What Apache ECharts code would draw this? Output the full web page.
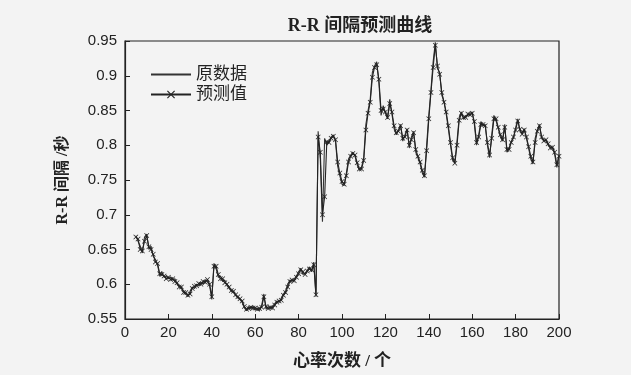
<!DOCTYPE html>
<html>
<head>
<meta charset="utf-8">
<script src="https://cdn.jsdelivr.net/npm/echarts@6/dist/echarts.min.js"></script>
<style>
html,body{margin:0;padding:0;background:#f3f3f3;}
#chart{width:631px;height:375px;}
</style>
</head>
<body>
<div id="chart"></div>
<script>
// Chart text
const titleText = 'R-R 间隔预测曲线';
const xAxisName = '心率次数 / 个';
const yAxisName = 'R-R 间隔 /秒';
const seriesNames = ['原数据', '预测值'];
// x ticks: 0..200 step 20, y ticks: 0.55..0.95 step 0.05
const xTicks = [0, 20, 40, 60, 80, 100, 120, 140, 160, 180, 200];
const yTicks = [0.55, 0.6, 0.65, 0.7, 0.75, 0.8, 0.85, 0.9, 0.95];
// first heartbeat index of the samples
const firstBeat = 5;

// 原数据 (beats 5..200)
const original = [
0.670,0.662,0.655,0.645,0.668,0.672,0.650,0.655,0.640,0.636,
0.628,0.612,0.618,0.610,0.612,0.608,0.610,0.606,0.608,0.600,
0.598,0.594,0.590,0.586,0.582,0.590,0.596,0.594,0.600,0.598,
0.603,0.600,0.606,0.604,0.598,0.578,0.630,0.622,0.610,0.612,
0.604,0.606,0.598,0.594,0.590,0.588,0.584,0.580,0.578,0.574,
0.566,0.562,0.568,0.565,0.568,0.563,0.566,0.562,0.570,0.586,
0.564,0.568,0.565,0.568,0.572,0.576,0.574,0.580,0.586,0.590,
0.600,0.606,0.604,0.607,0.612,0.618,0.623,0.614,0.616,0.620,
0.625,0.618,0.632,0.582,0.820,0.780,0.690,0.810,0.800,0.806,
0.812,0.815,0.806,0.770,0.756,0.744,0.742,0.760,0.780,0.786,
0.790,0.784,0.772,0.764,0.768,0.782,0.830,0.850,0.866,0.905,
0.914,0.920,0.890,0.843,0.857,0.846,0.838,0.866,0.845,0.824,
0.815,0.822,0.830,0.806,0.815,0.824,0.796,0.812,0.820,0.790,
0.782,0.773,0.760,0.754,0.800,0.843,0.880,0.920,0.948,0.910,
0.905,0.872,0.863,0.845,0.824,0.800,0.778,0.776,0.806,0.840,
0.848,0.838,0.842,0.843,0.846,0.848,0.830,0.800,0.815,0.834,
0.828,0.830,0.800,0.782,0.815,0.843,0.835,0.824,0.812,0.806,
0.830,0.790,0.796,0.806,0.810,0.825,0.838,0.820,0.818,0.824,
0.810,0.796,0.780,0.773,0.810,0.822,0.830,0.810,0.808,0.806,
0.800,0.798,0.796,0.787,0.768,0.787
];

// 预测值 (beats 5..200)
const predicted = [
0.668,0.665,0.650,0.648,0.662,0.670,0.654,0.650,0.643,0.632,
0.630,0.615,0.614,0.612,0.608,0.610,0.607,0.608,0.604,0.602,
0.596,0.596,0.588,0.588,0.584,0.586,0.594,0.597,0.598,0.601,
0.600,0.604,0.603,0.607,0.600,0.582,0.626,0.626,0.614,0.608,
0.608,0.602,0.600,0.596,0.591,0.590,0.585,0.582,0.579,0.576,
0.568,0.564,0.565,0.567,0.566,0.566,0.564,0.565,0.567,0.582,
0.568,0.565,0.567,0.566,0.570,0.574,0.576,0.577,0.584,0.588,
0.596,0.604,0.606,0.605,0.610,0.615,0.621,0.618,0.614,0.619,
0.622,0.621,0.628,0.585,0.812,0.790,0.700,0.726,0.805,0.804,
0.810,0.813,0.808,0.776,0.760,0.748,0.744,0.756,0.776,0.784,
0.788,0.786,0.775,0.766,0.766,0.778,0.822,0.846,0.862,0.898,
0.912,0.916,0.895,0.850,0.852,0.848,0.840,0.860,0.848,0.828,
0.818,0.820,0.828,0.810,0.812,0.822,0.800,0.808,0.818,0.794,
0.784,0.776,0.764,0.756,0.792,0.838,0.876,0.912,0.944,0.914,
0.902,0.876,0.862,0.848,0.828,0.804,0.782,0.774,0.800,0.836,
0.846,0.840,0.840,0.845,0.844,0.846,0.834,0.804,0.812,0.830,
0.830,0.828,0.804,0.786,0.810,0.838,0.838,0.826,0.815,0.808,
0.826,0.794,0.794,0.804,0.812,0.822,0.835,0.823,0.816,0.822,
0.812,0.798,0.784,0.776,0.804,0.820,0.828,0.812,0.806,0.808,
0.802,0.796,0.797,0.790,0.772,0.784
];

const toPairs = arr => arr.map((v, i) => [firstBeat + i, v]);

const crossSymbol = 'path://M0,1L1,0L5,4L9,0L10,1L6,5L10,9L9,10L5,6L1,10L0,9L4,5Z';
const serif = '"Liberation Serif","Noto Sans CJK SC",serif';
const sans = '"Liberation Sans",Arial,sans-serif';

const chart = echarts.init(document.getElementById('chart'));
chart.setOption({
  backgroundColor: '#f3f3f3',
  animation: false,
  title: {
    text: titleText,
    left: 355, top: 12, textAlign: 'center',
    textStyle: {fontFamily: serif, fontSize: 18, fontWeight: 'bold', color: '#222'}
  },
  legend: {
    left: 145, top: 61, orient: 'vertical',
    itemWidth: 40, itemHeight: 10, itemGap: 3,
    textStyle: {fontFamily: serif, fontSize: 17, color: '#222'},
    data: [
      {name: seriesNames[0], itemStyle: {color: 'transparent', borderColor: 'transparent', borderWidth: 0}},
      {name: seriesNames[1]}
    ]
  },
  grid: {
    left: 125, right: 72, top: 41, bottom: 50,
    show: true, borderColor: '#222', borderWidth: 1.2, backgroundColor: 'transparent'
  },
  xAxis: {
    type: 'value', min: xTicks[0], max: xTicks[xTicks.length - 1], interval: 20,
    name: xAxisName, nameLocation: 'middle', nameGap: 34,
    nameTextStyle: {fontFamily: serif, fontSize: 17, fontWeight: 'bold', color: '#222'},
    axisLine: {lineStyle: {color: '#222', width: 1.2}},
    axisTick: {inside: true, length: 5, lineStyle: {color: '#222'}},
    axisLabel: {fontFamily: sans, fontSize: 15, color: '#222', margin: 6},
    splitLine: {show: false}
  },
  yAxis: {
    type: 'value', min: yTicks[0], max: yTicks[yTicks.length - 1], interval: 0.05,
    name: yAxisName, nameLocation: 'middle', nameGap: 54, nameRotate: 90,
    nameTextStyle: {fontFamily: serif, fontSize: 16, fontWeight: 'bold', color: '#222'},
    axisLine: {lineStyle: {color: '#222', width: 1.2}},
    axisTick: {inside: true, length: 5, lineStyle: {color: '#222'}},
    axisLabel: {fontFamily: sans, fontSize: 15, color: '#222', margin: 8,
      formatter: v => String(Math.round(v * 100) / 100)},
    splitLine: {show: false}
  },
  series: [
    {
      name: seriesNames[0], type: 'line', data: toPairs(original),
      symbol: 'none', lineStyle: {color: '#333', width: 1.1},
      itemStyle: {color: '#333'}
    },
    {
      name: seriesNames[1], type: 'line', data: toPairs(predicted),
      symbol: crossSymbol, symbolSize: 5, showAllSymbol: true,
      lineStyle: {color: '#222', width: 1.1},
      itemStyle: {color: '#222'}
    }
  ]
});
</script>
</body>
</html>
